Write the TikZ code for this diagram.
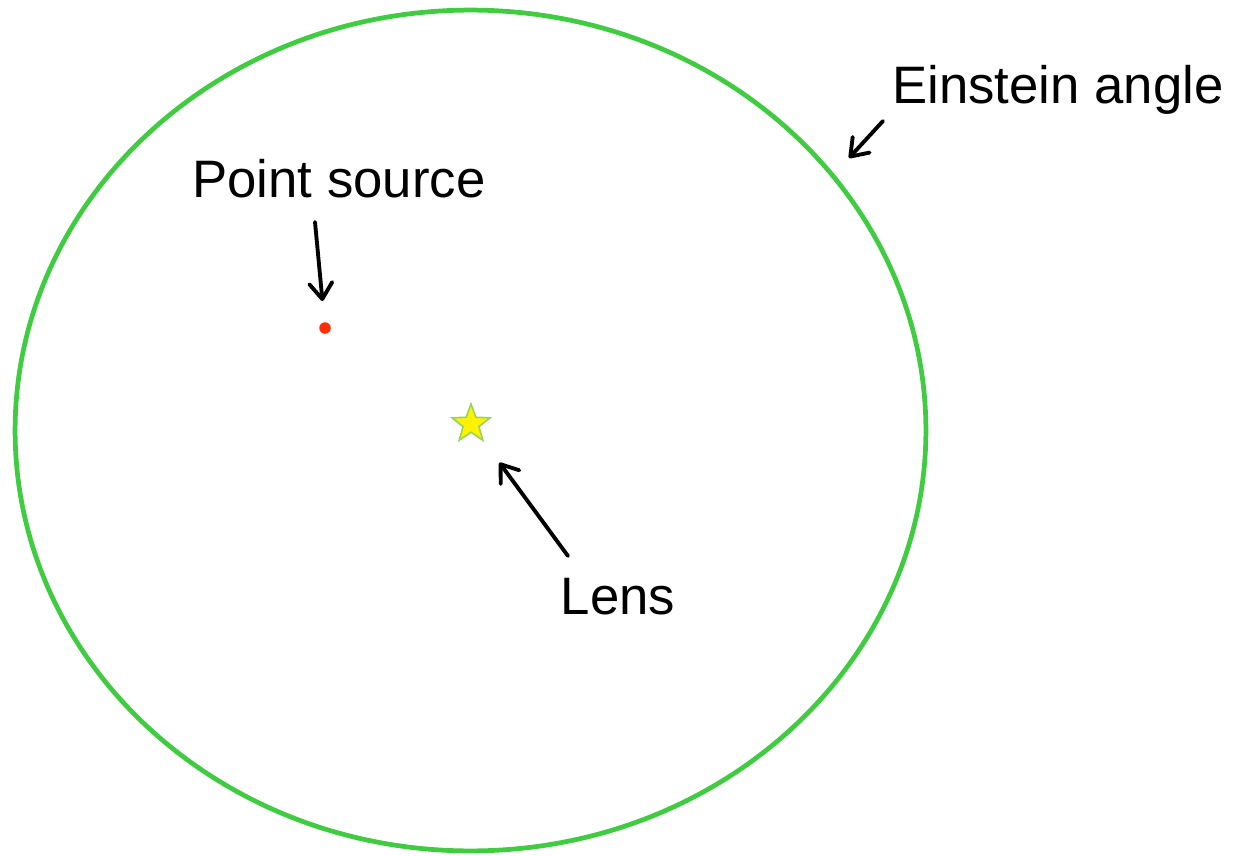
\documentclass[tikz,border=0pt]{standalone}
\usepackage{fontspec}
\setmainfont{Liberation Sans}
\usepackage{xcolor}
\usetikzlibrary{positioning,arrows.meta,shapes.geometric}
\definecolor{ringgreen}{RGB}{64,204,64}
\definecolor{starrim}{RGB}{150,212,90}
\definecolor{dotred}{RGB}{255,45,0}

\begin{document}
\begin{tikzpicture}[
  x=0.02cm, y=-0.02cm,
  lbl/.style={font=\fontsize{30}{36}\selectfont, anchor=base, inner sep=0pt},
  arr/.style={-{Straight Barb[length=3.2mm, width=4.6mm, round]}, line width=2.2pt, line cap=round, black},
  ring/.style={draw=ringgreen, line width=2.7pt, ellipse, minimum width=18.22cm, minimum height=16.82cm, inner sep=0pt},
]
\useasboundingbox (0,0) rectangle (1243,855);

% --- Einstein ring ---
\node[ring] (ring) at (470.5,430.5) {};

% --- source and lens ---
\node[circle, fill=dotred, minimum size=0.23cm, inner sep=0pt] (src) at (325,328) {};
\node[star, star points=5, star point ratio=2.4, fill=yellow, draw=starrim, line width=0.9pt,
      minimum size=0.8cm, inner sep=0pt] (lens) at (471,424) {};

% --- labels ---
\node[lbl] (lblring) at (1058,104) {Einstein angle};
\node[lbl] (lblsrc) at (339,197) {Point source};
\node[lbl] (lbllens) at (618,614) {Lens};

% --- pointers ---
\coordinate (ringtail) at (883,121);
\coordinate (ringhead) at (849,158);
\coordinate (srctail) at (315,222);
\coordinate (lenstail) at (568,556);
\draw[arr] (ringtail) -- (ringhead);
\draw[arr, shorten >=0.42cm] (srctail) -- (src);
\draw[arr, shorten >=0.52cm] (lenstail) -- (lens);
\end{tikzpicture}
\end{document}
